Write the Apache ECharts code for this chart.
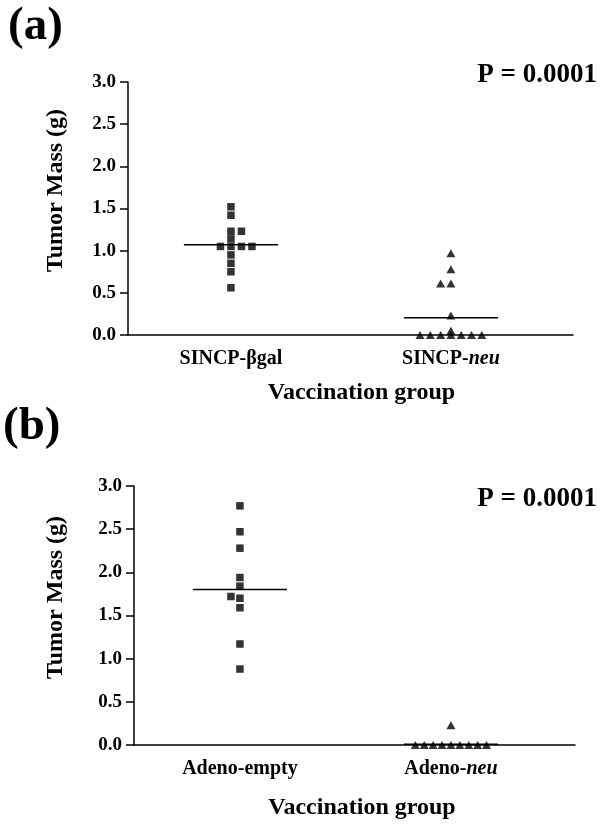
<!DOCTYPE html>
<html>
<head>
<meta charset="utf-8">
<script src="https://cdn.jsdelivr.net/npm/echarts@6/dist/echarts.min.js"></script>
<style>
html,body{margin:0;padding:0;background:#fff;}
#chart{width:600px;height:824px;}
</style>
</head>
<body>
<div id="chart"></div>
<script>
// ---- data ----
const panelLabels = ['(a)', '(b)'];
const pValueText = 'P = 0.0001';
const yTicks = [0, 0.5, 1.0, 1.5, 2.0, 2.5, 3.0];

const categoriesA = ['SINCP-βgal', 'SINCP-neu'];
const sincpBgal = [1.52, 1.42, 1.23, 1.23, 1.14, 1.05, 1.05, 1.05, 1.05, 0.95, 0.85, 0.75, 0.56];
const sincpBgalSlot = [0, 0, 0, 1, 0, -1, 0, 1, 2, 0, 0, 0, 0];
const sincpNeu = [0.97, 0.78, 0.61, 0.61, 0.23, 0.05, 0, 0, 0, 0, 0, 0, 0];
const sincpNeuSlot = [0, 0, -1, 0, 0, 0, -3, -2, -1, 0, 1, 2, 3];
const meansA = [1.07, 0.205];

const categoriesB = ['Adeno-empty', 'Adeno-neu'];
const adenoEmpty = [2.77, 2.47, 2.28, 1.94, 1.84, 1.72, 1.70, 1.59, 1.17, 0.88];
const adenoEmptySlot = [0, 0, 0, 0, 0, -1, 0, 0, 0, 0];
const adenoNeu = [0.23, 0, 0, 0, 0, 0, 0, 0, 0, 0];
const adenoNeuSlot = [0, -4, -3, -2, -1, 0, 1, 2, 3, 4];
const meansB = [1.80, 0.01];

// ---- chart ----
const FONT = '"Liberation Serif", "Times New Roman", serif';
const chart = echarts.init(document.getElementById('chart'), null, {renderer: 'canvas'});

function pts(vals, slots, cat, spacing) {
  return vals.map((v, i) => ({value: [cat, v], symbolOffset: [slots[i] * spacing, 0]}));
}
function meanLine(cat, m, half) {
  return [[cat - half, m], [cat + half, m]];
}
const rich = {
  b: {fontFamily: FONT, fontWeight: 'bold', fontSize: 20, color: '#000'},
  i: {fontFamily: FONT, fontWeight: 'bold', fontStyle: 'italic', fontSize: 20, color: '#000'}
};
function catFormatter(cats) {
  return function (v) {
    const name = cats[Math.round(v) - 1] || '';
    if (name.endsWith('-neu')) return '{b|' + name.slice(0, -3) + '}{i|neu}';
    return '{b|' + name + '}';
  };
}
function xAxis(idx, min, max, cats, pad, gap) {
  return {
    type: 'value', gridIndex: idx, min: min, max: max,
    splitLine: {show: false},
    axisLine: {show: true, onZero: false, lineStyle: {color: '#000', width: 1.5}},
    axisTick: {show: false},
    axisLabel: {customValues: [1, 2], formatter: catFormatter(cats), rich: rich, margin: 14},
    name: 'Vaccination group', nameLocation: 'middle', nameGap: gap,
    nameTextStyle: {fontFamily: FONT, fontWeight: 'bold', fontSize: 24, color: '#000', padding: [0, 0, 0, pad]}
  };
}
function yAxis(idx, gap) {
  return {
    type: 'value', gridIndex: idx, min: 0, max: 3, interval: 0.5,
    splitLine: {show: false},
    axisLine: {show: true, lineStyle: {color: '#000', width: 1.5}},
    axisTick: {show: true, inside: false, length: 8, lineStyle: {color: '#000', width: 1.5}},
    axisLabel: {fontFamily: FONT, fontWeight: 'bold', fontSize: 19, color: '#000', margin: 12,
      formatter: v => v.toFixed(1), customValues: yTicks},
    name: 'Tumor Mass (g)', nameLocation: 'middle', nameGap: gap,
    nameTextStyle: {fontFamily: FONT, fontWeight: 'bold', fontSize: 24, color: '#000', padding: [0, 0, 0, 36]}
  };
}
const sq = {symbol: 'rect', symbolSize: 7.5, itemStyle: {color: '#000'}};
const tri = {symbol: 'triangle', symbolSize: [9, 8], itemStyle: {color: '#000'}};
const lineStyle = {color: '#000', width: 1.5};

chart.setOption({
  animation: false,
  backgroundColor: '#fff',
  grid: [
    {left: 128, top: 82, right: 27, height: 253},
    {left: 134, top: 486, right: 25, height: 259}
  ],
  xAxis: [xAxis(0, 0.532, 2.555, categoriesA, 22, 46), xAxis(1, 0.498, 2.588, categoriesB, 15, 51)],
  yAxis: [yAxis(0, 60), yAxis(1, 66)],
  graphic: [
    {type: 'text', left: 8, top: 3, style: {text: panelLabels[0], font: 'bold 47px ' + FONT, fill: '#000'}},
    {type: 'text', left: 3, top: 403, style: {text: panelLabels[1], font: 'bold 47px ' + FONT, fill: '#000'}},
    {type: 'text', right: 3, top: 62, style: {text: pValueText, font: 'bold 27px ' + FONT, fill: '#000'}},
    {type: 'text', right: 3, top: 486, style: {text: pValueText, font: 'bold 27px ' + FONT, fill: '#000'}}
  ],
  series: [
    Object.assign({type: 'scatter', xAxisIndex: 0, yAxisIndex: 0, data: pts(sincpBgal, sincpBgalSlot, 1, 10.5)}, sq),
    Object.assign({type: 'scatter', xAxisIndex: 0, yAxisIndex: 0, data: pts(sincpNeu, sincpNeuSlot, 2, 10.3)}, tri),
    {type: 'line', xAxisIndex: 0, yAxisIndex: 0, symbol: 'none', lineStyle: lineStyle, data: meanLine(1, meansA[0], 0.214)},
    {type: 'line', xAxisIndex: 0, yAxisIndex: 0, symbol: 'none', lineStyle: lineStyle, data: meanLine(2, meansA[1], 0.214)},
    Object.assign({type: 'scatter', xAxisIndex: 1, yAxisIndex: 1, data: pts(adenoEmpty, adenoEmptySlot, 1, 9)}, sq),
    Object.assign({type: 'scatter', xAxisIndex: 1, yAxisIndex: 1, data: pts(adenoNeu, adenoNeuSlot, 2, 8.9)}, tri),
    {type: 'line', xAxisIndex: 1, yAxisIndex: 1, symbol: 'none', lineStyle: lineStyle, data: meanLine(1, meansB[0], 0.223)},
    {type: 'line', xAxisIndex: 1, yAxisIndex: 1, symbol: 'none', lineStyle: lineStyle, data: meanLine(2, meansB[1], 0.223)}
  ]
});
</script>
</body>
</html>
